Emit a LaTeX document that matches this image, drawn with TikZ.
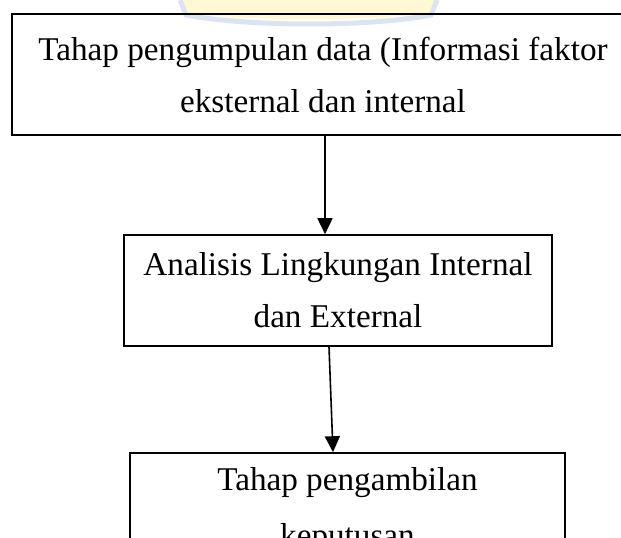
\documentclass[tikz,border=0pt]{standalone}
\usepackage{fontspec}
\setmainfont{Liberation Serif}
\usepackage{xcolor}
\usetikzlibrary{arrows.meta}
\definecolor{wmyellow}{HTML}{FFF8D4}
\definecolor{wmblue}{HTML}{DCE3F3}

\begin{document}
\begin{tikzpicture}[x=1pt,y=-1pt,
    tahap/.style={draw,line width=1.6pt,align=center,inner sep=0pt,font=\fontsize{33.2}{52}\selectfont},
    panah/.style={line width=1.6pt,-{Triangle[width=15pt,length=16pt]}}]
    \clip (0,0) rectangle (621,538);
    \fill[wmyellow] (182,0) -- (187,13) .. controls (250,21) and (370,21) .. (429,13) -- (434,0) -- cycle;
    \draw[wmblue,line width=5pt] (180,0) -- (186,15) .. controls (250,27) and (370,27) .. (431,15) -- (437,0);
    \node[tahap,minimum width=622pt,minimum height=121pt] (dataBox) at (323,74.5) {Tahap pengumpulan data (Informasi faktor\\eksternal dan internal};
    \node[tahap,minimum width=428pt,minimum height=111pt] (analisisBox) at (338,290.5) {Analisis Lingkungan Internal\\dan External};
    \node[tahap,minimum width=435pt,minimum height=116pt,font=\fontsize{33.2}{56}\selectfont] (keputusanBox) at (347.5,511) {Tahap pengambilan\\keputusan};
    \draw[panah] ([xshift=2pt]dataBox.south) -- ([xshift=-13pt]analisisBox.north);
    \draw[panah] ([xshift=-9pt]analisisBox.south) -- ([xshift=-14.5pt]keputusanBox.north);
  \end{tikzpicture}
\end{document}
